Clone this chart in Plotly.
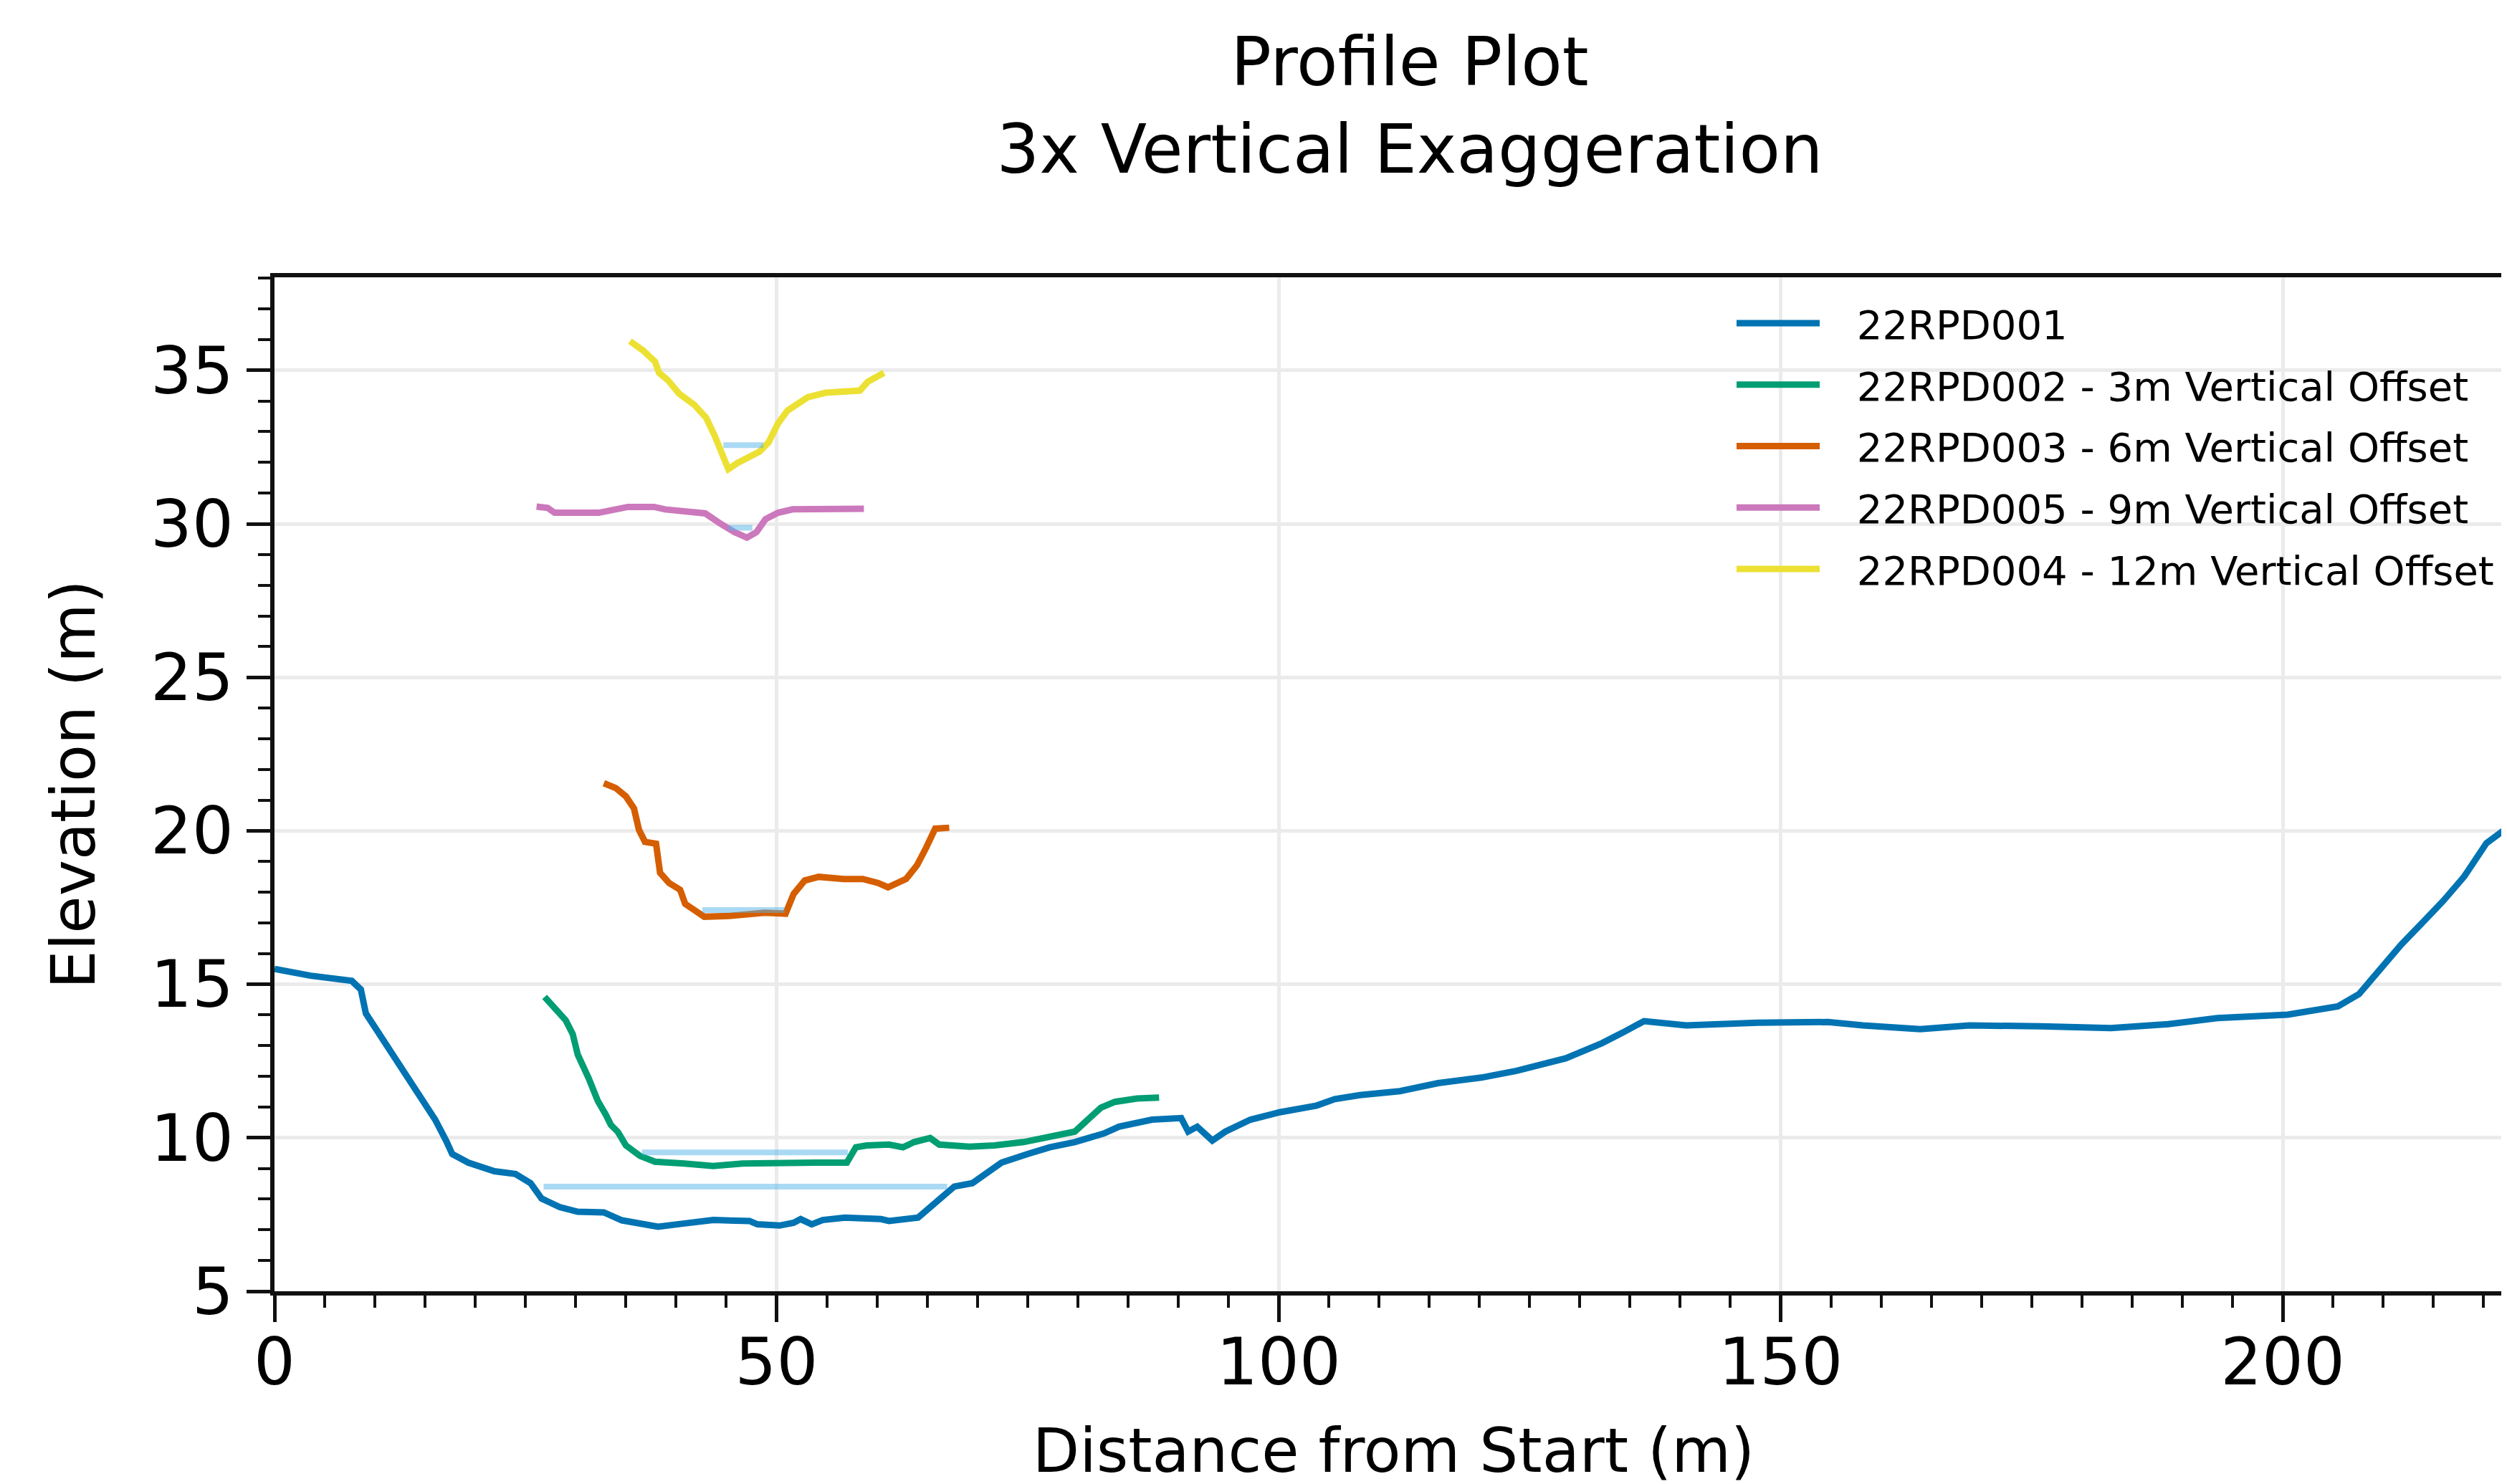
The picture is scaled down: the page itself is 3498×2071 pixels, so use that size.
import plotly.graph_objects as go

# ---------------- data ----------------
names = ["22RPD001", "22RPD002 - 3m Vertical Offset", "22RPD003 - 6m Vertical Offset",
         "22RPD005 - 9m Vertical Offset", "22RPD004 - 12m Vertical Offset"]
colors = ["#0173B2", "#029E73", "#D55E00", "#CC78BC", "#ECE133"]

x_001 = [0, 3.6, 7.7, 8.6, 9.1, 10.9, 12.8, 14.6, 16.0, 17.1, 17.7, 19.3, 21.9, 24.0, 25.5,
         26.6, 28.4, 30.2, 32.8, 34.6, 36.4, 38.2, 40.1, 42.2, 43.7, 47.3, 48.1, 50.3, 51.7,
         52.4, 53.5, 54.6, 56.8, 60.4, 61.2, 64.1, 65.9, 67.7, 69.5, 72.4, 75.0, 77.2, 79.7,
         82.6, 84.1, 87.4, 90.3, 91.0, 91.9, 93.4, 94.7, 97.2, 100.1, 103.8, 105.6, 108.1,
         112.1, 115.9, 120.2, 123.7, 128.6, 132.2, 134.3, 136.4, 140.6, 147.7, 154.7, 158.2,
         163.9, 168.8, 175.9, 182.9, 188.6, 193.5, 200.5, 205.5, 207.6, 209.7, 211.8, 213.9,
         216.0, 218.1, 220.3, 222.7, 223.5]
y_001 = [15.5, 15.28, 15.11, 14.83, 14.05, 13.16, 12.26, 11.37, 10.59, 9.9, 9.47, 9.19, 8.91,
         8.82, 8.52, 8.02, 7.74, 7.59, 7.57, 7.31, 7.18, 7.1, 7.18, 7.29, 7.32, 7.29, 7.18, 7.14,
         7.23, 7.35, 7.18, 7.32, 7.4, 7.35, 7.29, 7.4, 7.9, 8.41, 8.52, 9.19, 9.47, 9.69, 9.86,
         10.14, 10.36, 10.59, 10.64, 10.2, 10.36, 9.91, 10.2, 10.59, 10.83, 11.05, 11.26, 11.39,
         11.52, 11.78, 11.96, 12.18, 12.59, 13.08, 13.43, 13.8, 13.66, 13.75, 13.77, 13.66,
         13.54, 13.66, 13.63, 13.57, 13.7, 13.9, 14.01, 14.28, 14.68, 15.49, 16.29, 17.0,
         17.72, 18.52, 19.6, 20.18, 20.35]

x_002 = [26.9, 28.0, 29.0, 29.7, 30.2, 31.3, 32.2, 33.0, 33.5, 34.2, 35.0, 36.4, 37.9, 40.8,
         43.7, 46.6, 50.3, 53.9, 57.0, 57.9, 59.0, 61.2, 62.6, 63.7, 65.3, 66.2, 69.2, 71.7,
         74.6, 77.2, 79.7, 80.8, 82.3, 83.7, 85.9, 88.1]
y_002 = [14.59, 14.22, 13.83, 13.38, 12.71, 11.93, 11.2, 10.75, 10.42, 10.19, 9.75, 9.41, 9.22,
         9.16, 9.08, 9.16, 9.19, 9.19, 9.19, 9.69, 9.75, 9.78, 9.69, 9.86, 9.99, 9.78, 9.71,
         9.75, 9.86, 10.03, 10.2, 10.53, 10.98, 11.17, 11.28, 11.31]

x_003 = [32.8, 34.0, 35.0, 35.8, 36.3, 36.9, 38.0, 38.4, 39.3, 40.4, 40.9, 42.3, 42.8, 45.5,
         48.8, 50.9, 51.7, 52.8, 54.2, 56.7, 58.6, 60.1, 61.1, 62.9, 64.0, 64.9, 65.8, 67.2]
y_003 = [21.55, 21.39, 21.12, 20.73, 20.03, 19.64, 19.58, 18.63, 18.3, 18.08, 17.62, 17.35,
         17.2, 17.23, 17.33, 17.3, 17.94, 18.38, 18.5, 18.43, 18.43, 18.3, 18.16, 18.43, 18.88,
         19.45, 20.07, 20.1]

x_005 = [26.1, 27.2, 27.9, 32.3, 35.2, 37.8, 38.9, 42.9, 44.3, 45.8, 47.05, 48.0, 48.9, 50.15,
         51.6, 55.25, 58.7]
y_005 = [30.56, 30.52, 30.36, 30.36, 30.55, 30.55, 30.47, 30.34, 30.03, 29.73, 29.55, 29.73,
         30.15, 30.36, 30.47, 30.49, 30.49]

x_004 = [35.4, 36.7, 37.9, 38.3, 39.2, 40.3, 41.8, 43.0, 43.8, 44.7, 45.2, 46.1, 48.3, 49.2,
         50.15, 51.1, 53.1, 54.9, 58.3, 59.1, 60.7]
y_004 = [35.95, 35.65, 35.28, 34.92, 34.67, 34.24, 33.88, 33.45, 32.9, 32.17, 31.78, 31.98,
         32.35, 32.65, 33.27, 33.69, 34.12, 34.27, 34.34, 34.63, 34.92]

# water surface levels: (x start, x end, elevation)
water_x0 = [26.8, 36.6, 42.6, 45.2, 44.7]
water_x1 = [67.0, 57.1, 50.8, 47.6, 48.7]
water_y = [8.41, 9.52, 17.42, 29.87, 32.56]

x_ticks = [0, 50, 100, 150, 200]
y_ticks = [5, 10, 15, 20, 25, 30, 35]

profiles = [(x_001, y_001), (x_002, y_002), (x_003, y_003), (x_005, y_005), (x_004, y_004)]

# ---------------- figure ----------------
W, H = 3498, 2071
L, R, T, B = 375, 0, 379, 277
FONT = "DejaVu Sans"
GAP = "\u00a0\u00a0\u2009"  # spacing between legend handle and label

fig = go.Figure()
for i, ((xs, ys), nm, c) in enumerate(zip(profiles, names, colors)):
    fig.add_trace(go.Scatter(x=xs, y=ys, mode="lines", name=GAP + nm, legendgroup=f"g{i}",
                             line=dict(color=c, width=9), hoverinfo="skip"))
for x0, x1, yw in zip(water_x0, water_x1, water_y):
    fig.add_trace(go.Scatter(x=[x0, x1], y=[yw, yw], mode="lines", showlegend=False,
                             line=dict(color="rgba(86,180,233,0.5)", width=8), hoverinfo="skip"))

x_max = (W - L) / 14.01
axis_common = dict(showline=True, linecolor="#111111", linewidth=6, ticks="outside",
                   tickcolor="#111111", tickwidth=5, showgrid=True, gridcolor="#ebebeb",
                   gridwidth=5, zeroline=False, tickfont=dict(family=FONT, size=91, color="black"),
                   title_font=dict(family=FONT, size=85, color="black"))

fig.update_layout(
    width=W, height=H,
    margin=dict(l=L, r=R, t=T, b=B, pad=0),
    paper_bgcolor="white", plot_bgcolor="white",
    font=dict(family=FONT, color="black"),
    title=dict(text="Profile Plot<br>3x Vertical Exaggeration",
               font=dict(family=FONT, size=94, color="black"),
               x=1959 / W, xref="container", xanchor="center",
               y=1 - 111 / H, yref="container", yanchor="top"),
    xaxis=dict(range=[0, x_max], tickvals=x_ticks, ticklen=37, mirror=True,
               ticklabelstandoff=-22,
               title=dict(text="Distance from Start (m)", standoff=44),
               minor=dict(dtick=5, tick0=0, ticks="outside", ticklen=17, tickwidth=4,
                          tickcolor="#111111", showgrid=False),
               **axis_common),
    yaxis=dict(range=[5, 38.03], tickvals=y_ticks, ticklen=33,
               title=dict(text="Elevation (m)", standoff=51),
               minor=dict(dtick=1, tick0=0, ticks="outside", ticklen=17, tickwidth=4,
                          tickcolor="#111111", showgrid=False),
               **axis_common),
    legend=dict(x=(2410 - L) / (W - L), xanchor="left", y=(1794 - 400) / (1794 - 379),
                yanchor="top", bgcolor="rgba(0,0,0,0)", borderwidth=0,
                font=dict(family=FONT, size=56, color="black"),
                itemwidth=116, tracegroupgap=10, traceorder="grouped"),
    showlegend=True,
)

fig.write_html("out.html")
